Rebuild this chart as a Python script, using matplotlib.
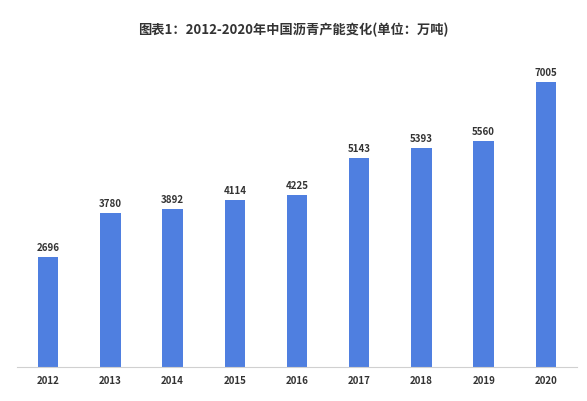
import matplotlib.pyplot as plt

plt.rcParams['font.family'] = ['Noto Sans CJK SC', 'DejaVu Sans']

years = ["2012", "2013", "2014", "2015", "2016", "2017", "2018", "2019", "2020"]
capacity = [2696, 3780, 3892, 4114, 4225, 5143, 5393, 5560, 7005]

fig = plt.figure(figsize=(5.87, 4.02), dpi=100)
ax = fig.add_axes([17/587, 34/402, 560/587, 308/402])

x = list(range(len(years)))
ax.bar(x, capacity, width=0.33, color="#4f7fe0")
for xi, v in zip(x, capacity):
    ax.text(xi, v + 120, str(v), ha="center", va="bottom", fontsize=7, fontweight="bold", color="#333333")

ax.set_xlim(-0.5, 8.5)
ax.set_ylim(0, 7570)
ax.set_xticks(x)
ax.set_xticklabels(years, fontsize=7, fontweight="bold", color="#333333")
ax.tick_params(axis="x", length=0, pad=6)
ax.set_yticks([])
for s in ["top", "right", "left"]:
    ax.spines[s].set_visible(False)
ax.spines["bottom"].set_color("#d0d0d0")

fig.text(0.5, 1 - 30/402, "图表1：2012-2020年中国沥青产能变化(单位：万吨)", ha="center", va="center",
         fontsize=9.5, fontweight="bold", color="#333333")

fig.savefig("out.png", dpi=100)
